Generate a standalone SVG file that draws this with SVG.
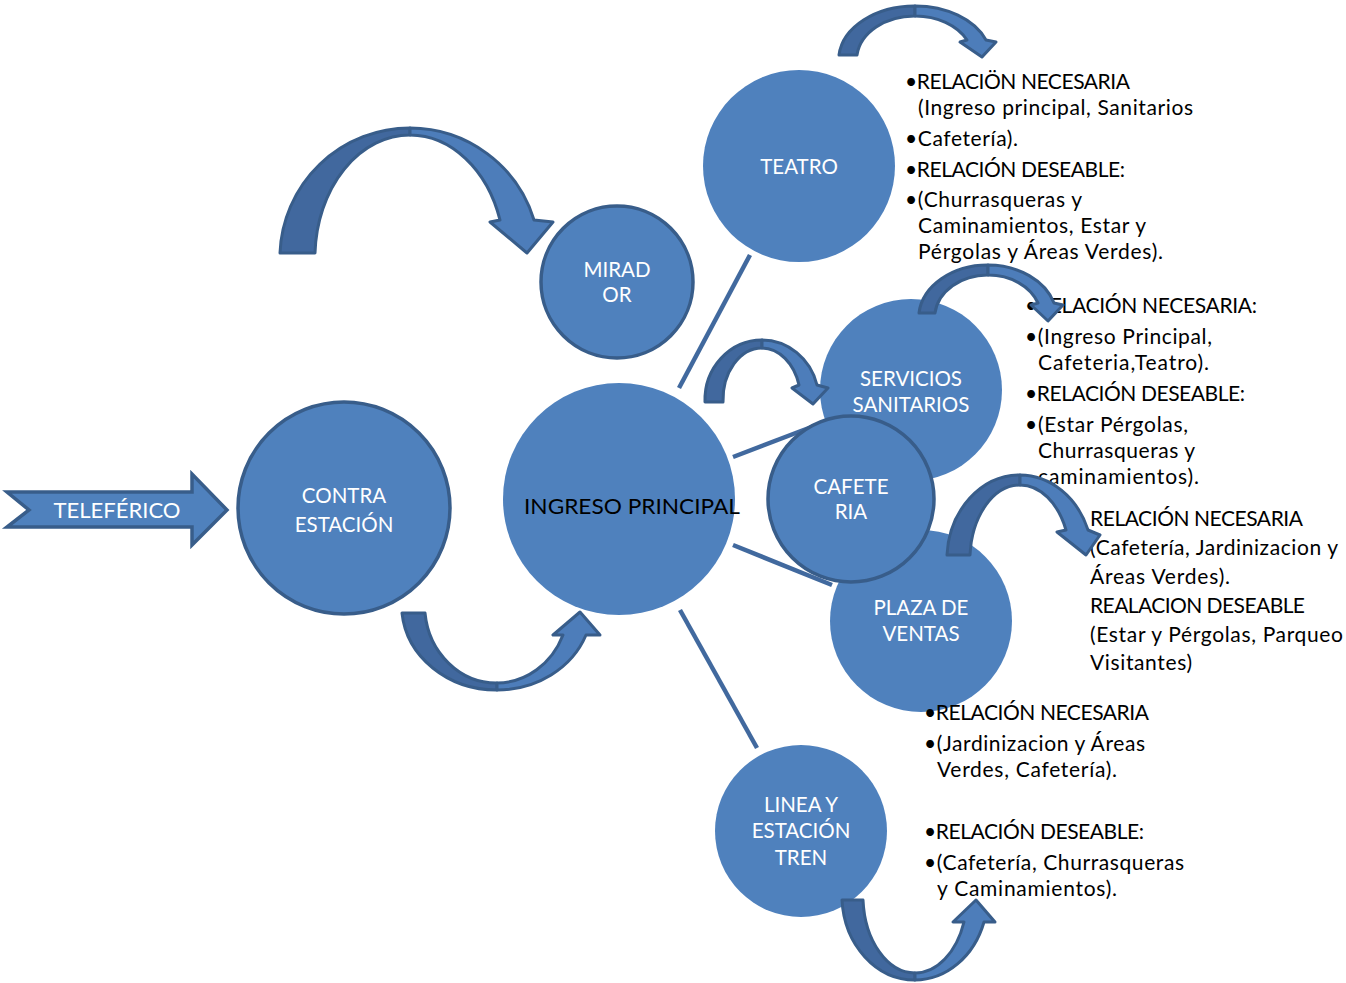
<svg xmlns="http://www.w3.org/2000/svg" width="1346" height="983" viewBox="0 0 1346 983">
<style>
.c{fill:#4f81bd}
.cs{fill:#4f81bd;stroke:#385d8a;stroke-width:3.5}
.nt{font-family:Lato,"Liberation Sans",sans-serif;font-size:20.5px;fill:#fff;text-anchor:middle}
.bt{font-family:Lato,"Liberation Sans",sans-serif;font-size:21px;fill:#000}
.ln{stroke:#41699e;stroke-width:4.5;fill:none}
.dk{fill:#41689e;stroke:#385d8a;stroke-width:3;stroke-linejoin:round}
.lt{fill:#4d7dba;stroke:#385d8a;stroke-width:3;stroke-linejoin:round}
</style>
<rect width="1346" height="983" fill="#fff"/>
<g id="connectors">
<line class="ln" x1="679" y1="388" x2="750" y2="255"/>
<line class="ln" x1="733" y1="457" x2="822" y2="423"/>
<line class="ln" x1="733" y1="545" x2="832" y2="585"/>
<line class="ln" x1="680" y1="610" x2="757" y2="748"/>
</g>
<g id="teleferico">
<polygon points="7,492 192,492 192,474 227,510 192,545 192,527 7,527 29,510" fill="#4f81bd" stroke="#385d8a" stroke-width="3.5" stroke-linejoin="miter"/>
<text class="nt" x="117" y="518" font-size="23" textLength="127" lengthAdjust="spacingAndGlyphs">TELEFÉRICO</text>
</g>
<g id="contra">
<circle class="cs" cx="344" cy="508" r="106"/>
<text class="nt" x="344" y="503">CONTRA</text>
<text class="nt" x="344" y="532">ESTACIÓN</text>
</g>
<g id="ingreso">
<circle class="c" cx="619" cy="499" r="116"/>
<text class="nt" x="632" y="514" font-size="23" style="fill:#000" textLength="216" lengthAdjust="spacingAndGlyphs">INGRESO PRINCIPAL</text>
</g>
<g id="mirador">
<circle class="cs" cx="617" cy="282" r="76"/>
<text class="nt" x="617" y="277" font-size="18">MIRAD</text>
<text class="nt" x="617" y="302" font-size="18">OR</text>
</g>
<g id="teatro">
<circle class="c" cx="799" cy="166" r="96"/>
<text class="nt" x="799" y="174">TEATRO</text>
</g>
<g id="servicios">
<circle class="c" cx="911" cy="390" r="91"/>
<text class="nt" x="911" y="386">SERVICIOS</text>
<text class="nt" x="911" y="412">SANITARIOS</text>
</g>
<g id="plaza">
<circle class="c" cx="921" cy="621" r="91"/>
<text class="nt" x="921" y="615">PLAZA DE</text>
<text class="nt" x="921" y="641">VENTAS</text>
</g>
<g id="cafeteria">
<circle class="cs" cx="851" cy="499" r="83"/>
<text class="nt" x="851" y="494" font-size="18">CAFETE</text>
<text class="nt" x="851" y="519" font-size="18">RIA</text>
</g>
<g id="linea">
<circle class="c" cx="801" cy="831" r="86"/>
<text class="nt" x="801" y="812">LINEA Y</text>
<text class="nt" x="801" y="838">ESTACIÓN</text>
<text class="nt" x="801" y="865">TREN</text>
</g>
<g id="text-teatro" class="bt">
<text x="905" y="89" textLength="225">•RELACIÖN NECESARIA</text>
<text x="918" y="115" textLength="275">(Ingreso principal, Sanitarios</text>
<text x="905" y="146" textLength="113">•Cafetería).</text>
<text x="905" y="177" textLength="220">•RELACIÓN DESEABLE:</text>
<text x="905" y="207" textLength="177">•(Churrasqueras y</text>
<text x="918" y="233" textLength="228">Caminamientos, Estar y</text>
<text x="918" y="259" textLength="245">Pérgolas y Áreas Verdes).</text>
</g>
<g id="text-servicios" class="bt">
<text x="1025" y="313" textLength="232">•RELACIÓN NECESARIA:</text>
<text x="1025" y="344" textLength="187">•(Ingreso Principal,</text>
<text x="1038" y="370" textLength="171">Cafeteria,Teatro).</text>
<text x="1025" y="401" textLength="220">•RELACIÓN DESEABLE:</text>
<text x="1025" y="432" textLength="163">•(Estar Pérgolas,</text>
<text x="1038" y="458" textLength="157">Churrasqueras y</text>
<text x="1038" y="484" textLength="161">caminamientos).</text>
</g>
<g id="text-plaza" class="bt">
<text x="1090" y="526" textLength="213">RELACIÓN NECESARIA</text>
<text x="1090" y="555" textLength="248">(Cafetería, Jardinizacion y</text>
<text x="1090" y="584" textLength="140">Áreas Verdes).</text>
<text x="1090" y="613" textLength="215">REALACION DESEABLE</text>
<text x="1090" y="642" textLength="253">(Estar y Pérgolas, Parqueo</text>
<text x="1090" y="670" textLength="102">Visitantes)</text>
</g>
<g id="text-linea" class="bt">
<text x="924" y="720" textLength="225">•RELACIÓN NECESARIA</text>
<text x="924" y="751" textLength="221">•(Jardinizacion y Áreas</text>
<text x="937" y="777" textLength="180">Verdes, Cafetería).</text>
<text x="924" y="839" textLength="220">•RELACIÓN DESEABLE:</text>
<text x="924" y="870" textLength="260">•(Cafetería, Churrasqueras</text>
<text x="937" y="896" textLength="180">y Caminamientos).</text>
</g>
<g id="arrow-mirador">
<path class="dk" d="M280,253 A130,130 0 0 1 410,128 L410,135 A95,123 0 0 0 315,253 Z"/>
<path class="lt" d="M410,128 A130,130 0 0 1 534,220 L553,222 L527,253 L490,222 L500,220 A95,123 0 0 0 410,135 Z"/>
</g>
<g id="arrow-teatro">
<path class="dk" d="M839,55 A76,54 0 0 1 915,6 L915,16 A58,44 0 0 0 857,55 Z"/>
<path class="lt" d="M915,6 A76,54 0 0 1 986,40 L996,42 L982,57 L960,42 L967,40 A58,44 0 0 0 915,16 Z"/>
</g>
<g id="arrow-servicios">
<path class="dk" d="M705,402 A57,60 0 0 1 762,340 L762,348 A39,52 0 0 0 723,402 Z"/>
<path class="lt" d="M762,340 A57,60 0 0 1 817,385 L828,388 L813,404 L792,388 L799,385 A39,52 0 0 0 762,348 Z"/>
</g>
<g id="arrow-servicios-text">
<path class="dk" d="M919,313 A69,53 0 0 1 988,265 L988,275 A53,43 0 0 0 935,313 Z"/>
<path class="lt" d="M988,265 A69,53 0 0 1 1054,303 L1063,305 L1048,321 L1031,305 L1038,303 A53,43 0 0 0 988,275 Z"/>
</g>
<g id="arrow-plaza">
<path class="dk" d="M947,555 A73,85 0 0 1 1020,475 L1020,485 A50,75 0 0 0 970,555 Z"/>
<path class="lt" d="M1020,475 A73,85 0 0 1 1088,530 L1100,535 L1086,555 L1057,532 L1066,530 A50,75 0 0 0 1020,485 Z"/>
</g>
<g id="arrow-contra">
<path class="dk" d="M402,613 A95,85 0 0 0 497,690 L497,683 A72,78 0 0 1 425,613 Z"/>
<path class="lt" d="M497,690 A95,85 0 0 0 586,635 L600,635 L580,612 L553,635 L563,635 A72,78 0 0 1 497,683 Z"/>
</g>
<g id="arrow-linea">
<path class="dk" d="M842,900 A73,85 0 0 0 915,980 L915,973 A52,78 0 0 1 863,900 Z"/>
<path class="lt" d="M915,980 A73,85 0 0 0 984,922 L995,922 L976,900 L953,922 L964,922 A52,78 0 0 1 915,973 Z"/>
</g>
</svg>
